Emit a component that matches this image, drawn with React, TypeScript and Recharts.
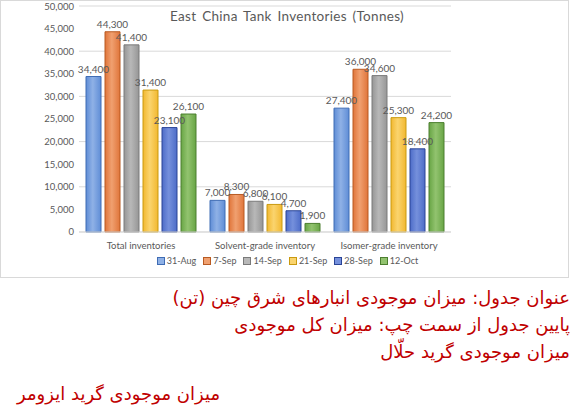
import { BarChart, Bar, XAxis, YAxis, CartesianGrid, Legend, LabelList } from 'recharts';

const categories = ['Total inventories', 'Solvent-grade inventory', 'Isomer-grade inventory'];
const weeks = ['31-Aug', '7-Sep', '14-Sep', '21-Sep', '28-Sep', '12-Oct'];
const aug31 = [34400, 7000, 27400];
const sep7 = [44300, 8300, 36000];
const sep14 = [41400, 6800, 34600];
const sep21 = [31400, 6100, 25300];
const sep28 = [23100, 4700, 18400];
const oct12 = [26100, 1900, 24200];
const yTicks = [0, 5000, 10000, 15000, 20000, 25000, 30000, 35000, 40000, 45000, 50000];

const persianLines = [
  'عنوان جدول: میزان موجودی انبارهای شرق چین (تن)',
  'پایین جدول از سمت چپ: میزان کل موجودی',
  'میزان موجودی گرید حلّال',
];
const persianLast = 'میزان موجودی گرید ایزومر';

const series = [aug31, sep7, sep14, sep21, sep28, oct12];

const data = categories.map((name, i) => {
  const row: any = { name };
  weeks.forEach((w, j) => {
    row[w] = series[j][i];
  });
  return row;
});

// base, highlight, border
const COLORS = [
  ['#5f8dd6', '#8fb1e6', '#3f6cb4'],
  ['#e0753a', '#f0a070', '#b85a22'],
  ['#969696', '#b8b8b8', '#7a7a7a'],
  ['#f2b830', '#fad46e', '#c99a10'],
  ['#4d6cc8', '#7590dc', '#2a4496'],
  ['#68a545', '#92c36f', '#4c7f30'],
];

const fmt = (v: number) => v.toLocaleString('en-US');

const FONT = 'Lato, "Open Sans", sans-serif';

const LegendContent = () => (
  <div style={{ display: 'flex', justifyContent: 'center', gap: 7, fontFamily: FONT, fontSize: 9, color: '#595959', paddingLeft: 6 }}>
    {weeks.map((w, i) => (
      <div key={w} style={{ display: 'flex', alignItems: 'center', gap: 2 }}>
        <span style={{ width: 6, height: 6, background: COLORS[i][1], border: `1px solid ${COLORS[i][2]}`, display: 'inline-block' }} />
        <span>{w}</span>
      </div>
    ))}
  </div>
);

export default function App() {
  return (
    <div style={{ position: 'absolute', left: 0, top: 0, width: 576, height: 410, background: '#fff' }}>
      <div style={{ position: 'absolute', left: 0, top: 0, width: 567, height: 276, border: '1px solid #d9d9d9' }}>
        <BarChart
          width={567}
          height={276}
          data={data}
          margin={{ top: 5, right: 117, bottom: 4, left: 0 }}
          barSize={15}
          barGap={4}
        >
          <defs>
            {COLORS.map((c, i) => (
              <linearGradient key={i} id={`g${i}`} x1="0" y1="0" x2="1" y2="0">
                <stop offset="0%" stopColor={c[0]} />
                <stop offset="45%" stopColor={c[1]} />
                <stop offset="100%" stopColor={c[0]} />
              </linearGradient>
            ))}
          </defs>
          <CartesianGrid vertical={false} stroke="#d9d9d9" />
          <XAxis
            dataKey="name"
            tickLine={false}
            axisLine={{ stroke: '#d9d9d9' }}
            tick={{ fontSize: 9.5, fill: '#595959', fontFamily: FONT }}
            tickMargin={4}
          />
          <YAxis
            width={78}
            domain={[0, 50000]}
            ticks={yTicks}
            tickFormatter={fmt}
            tickLine={false}
            axisLine={false}
            tickSize={3}
            tick={{ fontSize: 9.5, fill: '#595959', fontFamily: FONT }}
          />
          <Legend
            verticalAlign="bottom"
            content={<LegendContent />}
            wrapperStyle={{ left: 0, width: 567, bottom: 11 }}
          />
          {weeks.map((w, i) => (
            <Bar key={w} dataKey={w} fill={`url(#g${i})`} stroke={COLORS[i][2]} strokeWidth={1} isAnimationActive={false}>
              <LabelList
                dataKey={w}
                position="top"
                offset={4}
                formatter={(v: any) => fmt(Number(v))}
                style={{ fontSize: 10, fill: '#595959', fontFamily: FONT }}
              />
            </Bar>
          ))}
        </BarChart>
        <div
          style={{
            position: 'absolute',
            left: 0,
            width: 572,
            top: 7,
            textAlign: 'center',
            fontFamily: FONT,
            fontSize: 13.5,
            color: '#595959',
            letterSpacing: 0.3,
            wordSpacing: 2,
          }}
        >
          East China Tank Inventories (Tonnes)
        </div>
      </div>
      <div
        style={{
          position: 'absolute',
          right: 6,
          top: 284,
          direction: 'rtl',
          textAlign: 'right',
          fontFamily: '"DejaVu Sans", sans-serif',
          fontSize: 18,
          lineHeight: '27px',
          color: '#c00000',
        }}
      >
        {persianLines.map((t) => (
          <div key={t}>{t}</div>
        ))}
      </div>
      <div
        style={{
          position: 'absolute',
          left: 17,
          top: 380,
          direction: 'rtl',
          fontFamily: '"DejaVu Sans", sans-serif',
          fontSize: 18,
          lineHeight: '27px',
          color: '#c00000',
        }}
      >
        {persianLast}
      </div>
    </div>
  );
}
